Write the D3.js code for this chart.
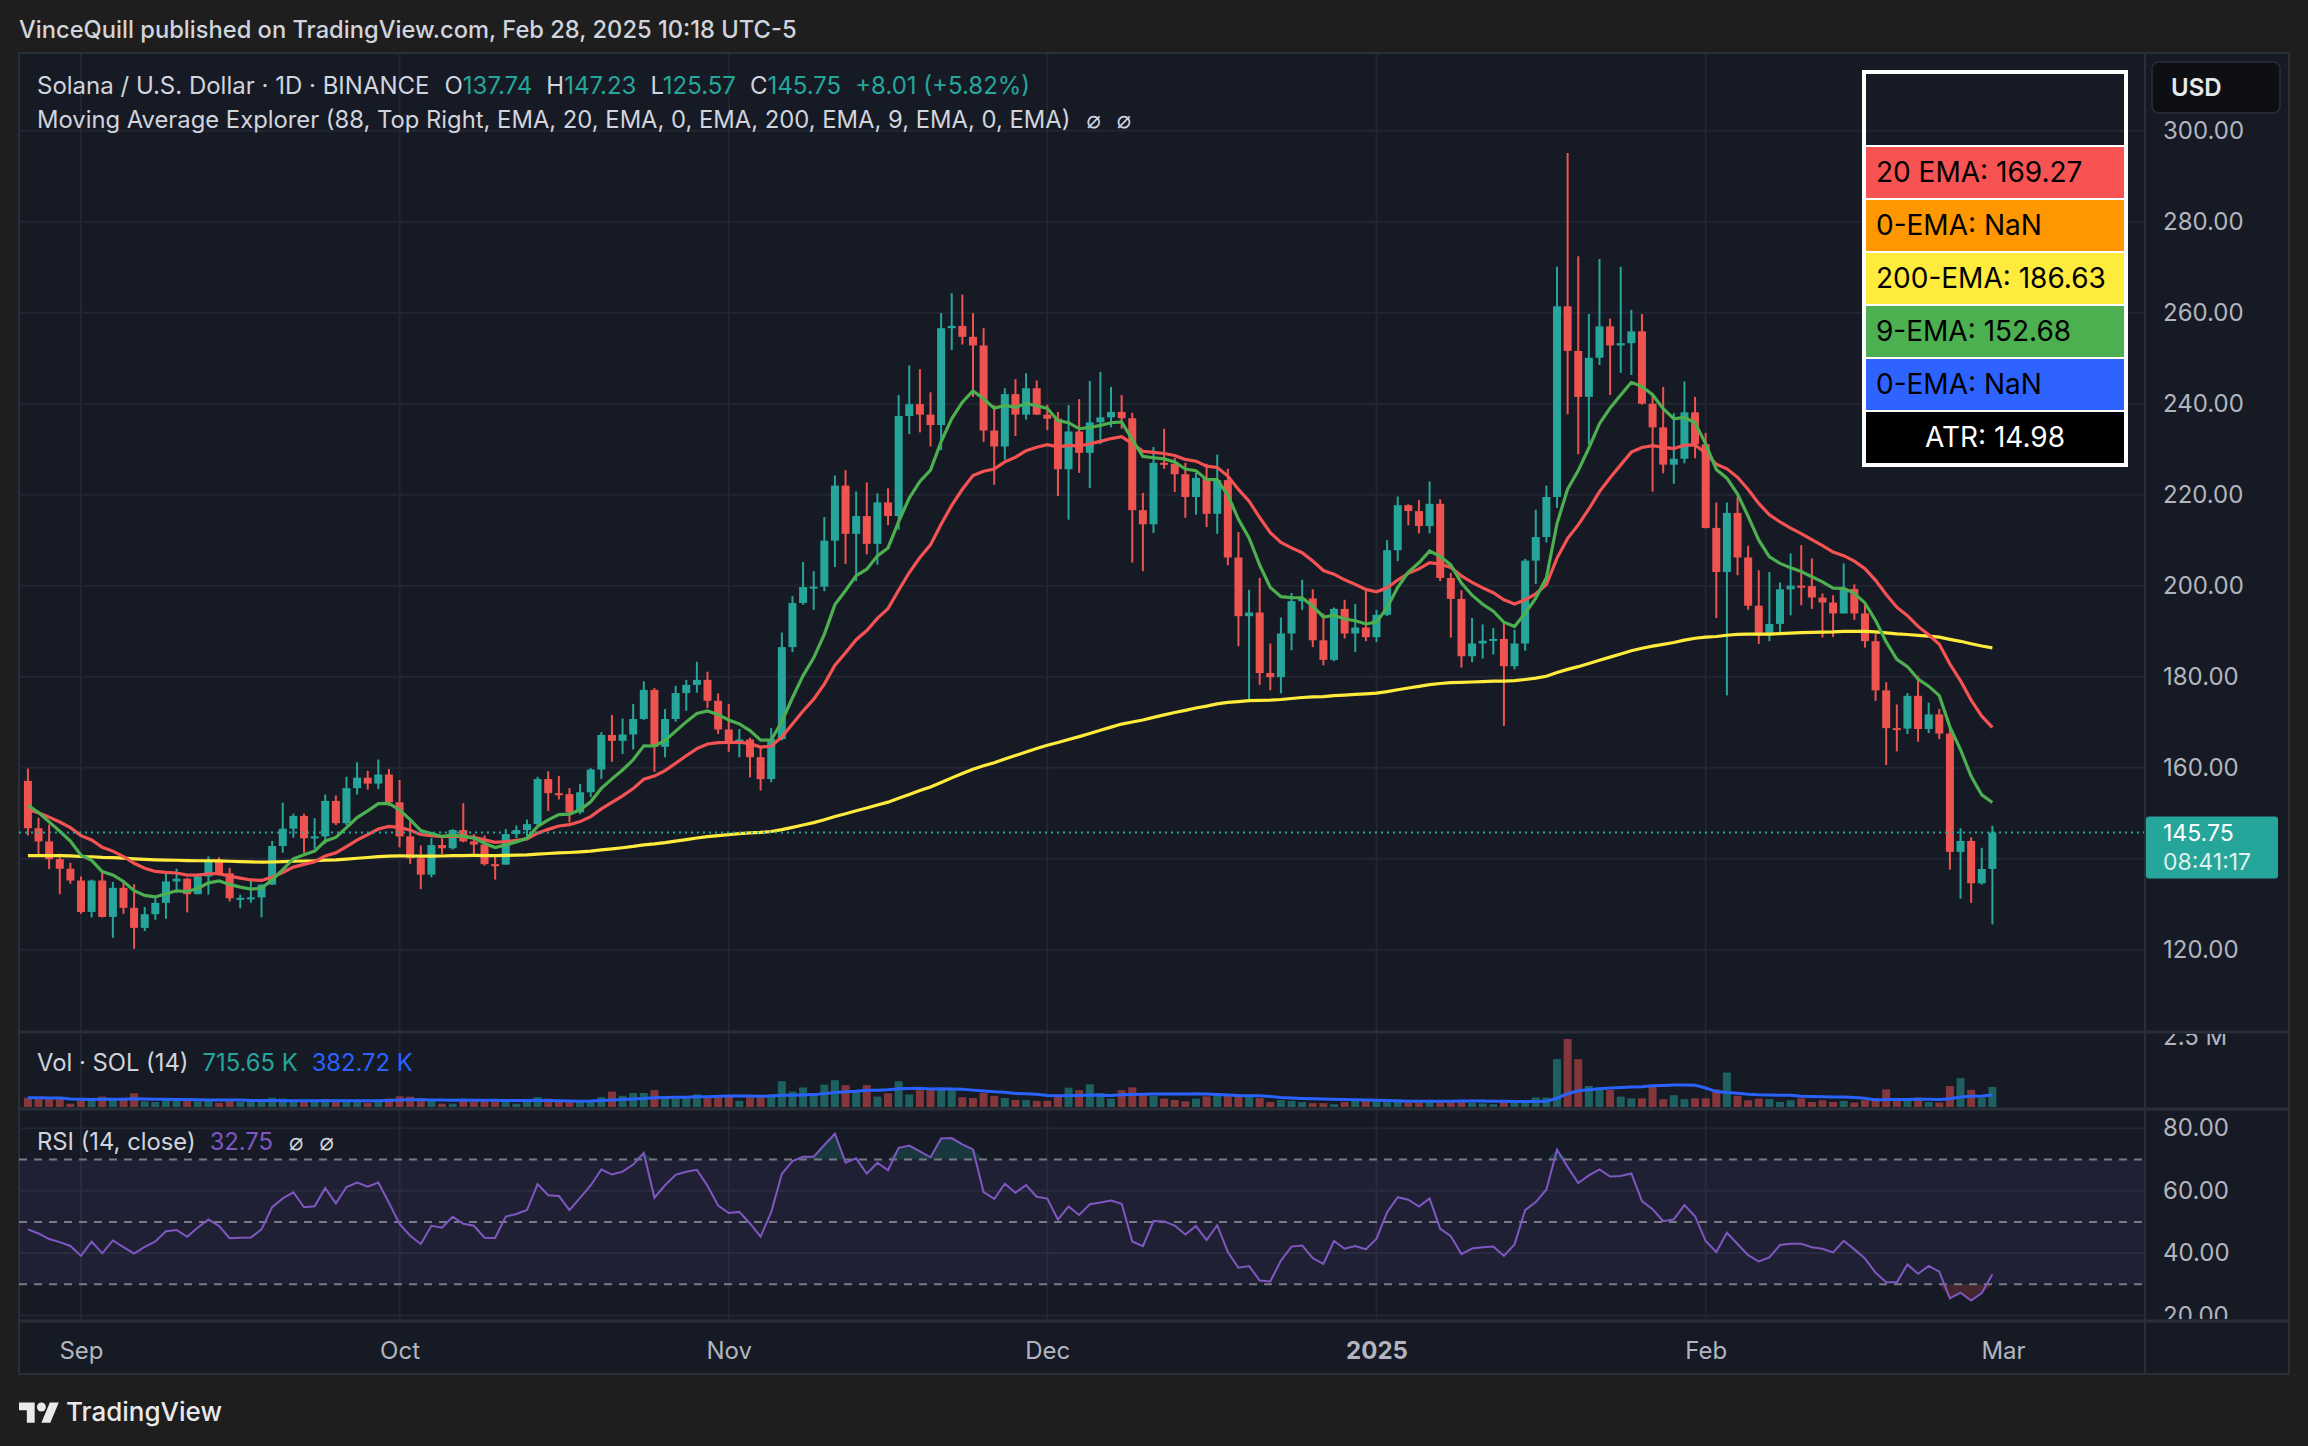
<!DOCTYPE html>
<html>
<head>
<meta charset="utf-8">
<script src="https://cdn.jsdelivr.net/npm/d3@7"></script>
<style>
html, body { margin: 0; padding: 0; background: #1e1e1e; }
svg { display: block; }
text { font-family: Inter, "Noto Sans", "DejaVu Sans", sans-serif; }
</style>
</head>
<body>
<script>

// daily SOL/USDT candles, Aug 27 2024 .. Feb 28 2025
const firstDay = Date.UTC(2024, 7, 27);

const opens = [
	157.1,146.7,143.8,139.9,137.8,135.2,128.3,135.2,127.2,133.6,
	129.2,124.8,127.8,130.3,135.0,135.6,132.2,136.1,139.6,136.8,
	131.3,131.4,131.5,134.3,142.8,146.6,149.4,144.5,144.9,152.7,
	147.8,155.5,157.8,156.5,158.5,152.4,144.9,140.1,136.5,143.0,
	142.3,146.3,143.8,143.1,138.8,138.7,145.4,146.3,147.6,157.5,
	154.4,154.2,150.2,154.6,159.6,167.2,165.9,167.3,170.7,177.1,
	164.6,170.7,176.4,178.2,179.3,174.7,168.4,165.8,166.2,162.3,
	157.5,166.3,186.5,196.2,199.7,199.8,209.9,222.0,211.4,215.3,
	209.2,218.3,215.3,237.3,239.9,237.6,235.3,256.6,257.1,254.7,
	252.8,234.1,230.6,242.1,237.6,243.4,237.6,236.7,225.6,233.9,
	229.2,235.9,237.0,238.2,236.8,216.6,213.5,227.0,226.8,224.5,
	219.5,223.7,215.8,223.2,206.2,193.3,194.1,180.8,179.9,189.5,
	196.6,197.2,188.0,183.7,194.9,189.5,190.8,188.7,193.6,207.8,
	217.7,216.4,213.1,218.0,201.7,197.1,184.5,187.3,187.9,188.3,
	182.3,187.3,205.5,210.7,219.5,261.4,251.6,241.5,250.1,257.0,
	252.8,253.3,255.9,240.0,234.8,226.6,227.9,238.1,231.1,212.7,
	203.0,216.0,206.2,195.6,189.1,191.6,199.2,200.0,199.9,197.4,
	196.3,193.9,199.3,193.9,187.8,177.0,168.7,168.6,175.8,168.5,
	171.7,167.5,141.5,143.9,134.6,137.74
];
const highs = [
	159.8,149.0,147.5,141.1,139.1,136.1,135.4,137.5,134.9,135.2,
	134.4,129.4,131.6,136.8,137.8,135.8,136.7,140.5,140.3,138.0,
	132.1,135.6,134.4,143.9,152.3,149.9,149.9,148.9,154.1,153.9,
	158.0,161.2,159.3,161.8,159.7,157.3,148.7,142.9,144.5,144.5,
	146.5,152.2,145.4,145.1,140.5,146.5,147.3,148.6,158.0,159.2,
	158.2,155.5,156.4,159.9,167.8,171.6,170.8,174.0,179.0,177.5,
	172.9,178.0,179.3,183.3,181.1,176.3,174.0,168.5,166.6,164.5,
	168.7,189.7,197.7,205.2,203.2,215.1,224.2,225.4,220.7,222.7,
	220.3,221.4,241.9,248.4,247.6,242.5,259.9,264.3,264.0,259.9,
	256.6,239.7,243.4,245.4,246.7,245.1,239.8,238.2,239.7,241.0,
	245.0,247.0,243.7,241.9,238.0,220.4,230.5,234.5,228.1,227.0,
	224.8,226.8,228.8,225.7,211.8,199.1,201.7,187.3,193.0,198.4,
	201.3,199.2,193.9,195.2,196.9,196.0,199.0,194.7,210.0,219.6,
	217.9,218.8,222.9,219.0,202.8,199.0,192.9,191.5,190.7,191.8,
	190.3,205.9,216.7,222.0,270.1,295.1,272.4,259.7,271.8,258.7,
	270.1,260.6,259.7,242.3,243.7,237.9,244.9,241.5,233.6,218.3,
	218.3,219.5,208.8,203.4,203.0,200.7,207.1,208.9,206.0,198.3,
	197.9,204.9,200.3,195.8,189.4,178.8,173.9,176.4,180.2,174.3,
	172.9,169.3,146.7,144.7,142.4,147.23
];
const lows = [
	145.1,140.4,137.7,132.2,134.5,127.9,127.1,127.1,122.6,127.9,
	120.2,124.1,126.6,126.8,132.5,128.2,132.2,132.1,136.3,130.6,
	129.1,130.3,127.1,134.2,141.3,144.6,141.3,142.2,143.3,147.4,
	147.4,154.1,155.2,155.3,151.6,142.5,138.8,133.3,135.9,141.0,
	142.0,143.6,141.0,138.5,135.4,138.7,144.5,144.3,147.3,150.5,
	153.0,148.0,149.8,153.5,157.5,161.3,163.0,164.0,170.5,159.1,
	162.3,170.1,172.5,176.5,173.1,167.4,163.5,162.3,157.9,155.0,
	156.8,166.0,185.4,195.8,194.7,198.8,204.1,204.8,201.0,206.9,
	204.6,213.3,212.3,233.3,233.7,230.6,229.8,251.8,253.0,241.5,
	231.6,222.2,227.7,232.9,236.5,237.5,234.2,219.7,214.5,224.8,
	221.5,231.1,234.8,234.5,205.1,203.2,211.6,225.7,220.6,214.9,
	215.6,212.9,211.4,204.5,186.7,174.8,178.2,177.0,176.3,185.8,
	194.7,186.5,182.5,183.4,188.4,185.4,187.8,187.6,193.3,205.4,
	213.3,211.5,211.5,201.0,188.6,182.0,183.2,184.0,184.9,169.2,
	181.6,185.7,200.4,209.5,217.1,237.7,228.9,231.0,248.5,241.9,
	246.8,246.3,239.8,220.7,224.7,222.4,226.9,228.0,212.6,192.9,
	175.9,202.3,194.7,187.2,187.8,189.6,193.5,195.7,194.9,188.6,
	188.7,193.9,192.5,186.4,174.7,160.6,163.6,167.4,165.7,167.6,
	166.3,137.6,131.2,130.3,134.3,125.57
];
const closes = [
	146.7,143.8,139.9,137.8,135.2,128.3,135.2,127.2,133.6,129.2,
	124.8,127.8,130.3,135.0,135.6,132.2,136.1,139.6,136.8,131.3,
	131.4,131.5,134.3,142.8,146.6,149.4,144.5,144.9,152.7,147.8,
	155.5,157.8,156.5,158.5,152.4,144.9,140.1,136.5,143.0,142.3,
	146.3,143.8,143.1,138.8,138.7,145.4,146.3,147.6,157.5,154.4,
	154.2,150.2,154.6,159.6,167.2,165.9,167.3,170.7,177.1,164.6,
	170.7,176.4,178.2,179.3,174.7,168.4,165.8,166.2,162.3,157.5,
	166.3,186.5,196.2,199.7,199.8,209.9,222.0,211.4,215.3,209.2,
	218.3,215.3,237.3,239.9,237.6,235.3,256.6,257.1,254.7,252.8,
	234.1,230.6,242.1,237.6,243.4,237.6,236.7,225.6,233.9,229.2,
	235.9,237.0,238.2,236.8,216.6,213.5,227.0,226.8,224.5,219.5,
	223.7,215.8,223.2,206.2,193.3,194.1,180.8,179.9,189.5,196.6,
	197.2,188.0,183.7,194.9,189.5,190.8,188.7,193.6,207.8,217.7,
	216.4,213.1,218.0,201.7,197.1,184.5,187.3,187.9,188.3,182.3,
	187.3,205.5,210.7,219.5,261.4,251.6,241.5,250.1,257.0,252.8,
	253.3,255.9,240.0,234.8,226.6,227.9,238.1,231.1,212.7,203.0,
	216.0,206.2,195.6,189.1,191.6,199.2,200.0,199.9,197.4,196.3,
	193.9,199.3,193.9,187.8,177.0,168.7,168.6,175.8,168.5,171.7,
	167.5,141.5,143.9,134.6,137.74,145.75
];
// volume in millions of SOL
const volumes = [
	0.33,0.33,0.30,0.33,0.12,0.24,0.22,0.37,0.28,0.25,
	0.49,0.20,0.18,0.25,0.22,0.25,0.20,0.22,0.15,0.20,
	0.18,0.20,0.22,0.33,0.30,0.18,0.20,0.22,0.28,0.22,
	0.26,0.22,0.15,0.18,0.30,0.38,0.37,0.32,0.26,0.12,
	0.12,0.26,0.20,0.22,0.22,0.20,0.12,0.18,0.35,0.30,
	0.22,0.20,0.18,0.20,0.35,0.55,0.40,0.50,0.50,0.60,
	0.28,0.30,0.35,0.45,0.32,0.35,0.38,0.22,0.35,0.40,
	0.45,0.92,0.55,0.70,0.45,0.80,0.96,0.78,0.60,0.78,
	0.37,0.49,0.92,0.45,0.60,0.60,0.62,0.60,0.35,0.32,
	0.50,0.40,0.32,0.25,0.25,0.22,0.22,0.42,0.69,0.60,
	0.81,0.50,0.30,0.60,0.70,0.50,0.40,0.30,0.25,0.20,
	0.30,0.38,0.42,0.40,0.45,0.45,0.32,0.18,0.25,0.22,
	0.18,0.14,0.14,0.10,0.18,0.22,0.28,0.28,0.28,0.28,
	0.16,0.16,0.22,0.22,0.22,0.22,0.15,0.13,0.10,0.22,
	0.15,0.20,0.34,0.34,1.71,2.43,1.71,0.75,0.70,0.61,
	0.37,0.31,0.31,0.73,0.28,0.42,0.28,0.31,0.31,0.63,
	1.23,0.40,0.24,0.30,0.28,0.18,0.24,0.31,0.18,0.24,
	0.18,0.22,0.16,0.24,0.31,0.63,0.31,0.28,0.34,0.18,
	0.16,0.75,1.03,0.61,0.34,0.7157
];

// indicator values just before the first visible bar
const ema9Prior = 153.0;
const ema20Prior = 151.2;
const ema200Prior = 140.6;
const rsiPriorGain = 4.0;
const rsiPriorLoss = 3.6;

const priceTicks = [120, 140, 160, 180, 200, 220, 240, 260, 280, 300];
// 140.00 sits under the last-price tag, so it has no label
const priceTickLabels = [120, 160, 180, 200, 220, 240, 260, 280, 300];
const rsiTicks = [20, 40, 60, 80];
const rsiLevels = [70, 50, 30];
const monthTicks = [
	Date.UTC(2024, 8, 1), Date.UTC(2024, 9, 1), Date.UTC(2024, 10, 1), Date.UTC(2024, 11, 1),
	Date.UTC(2025, 0, 1), Date.UTC(2025, 1, 1), Date.UTC(2025, 2, 1)
];
const monthLabels = ['Sep', 'Oct', 'Nov', 'Dec', '2025', 'Feb', 'Mar'];

const legendLabels = ['20 EMA: 169.27', '0-EMA: NaN', '200-EMA: 186.63', '9-EMA: 152.68', '0-EMA: NaN'];
const atrLabel = 'ATR: 14.98';
const volLabelValues = ['715.65 K', '382.72 K'];
const rsiLabelValue = '32.75';
const clockLabel = '08:41:17';


const W = 2308, H = 1446;
const left = 19, right = 2289, axisX = 2145;
const priceTop = 54, priceBottom = 1031;
const volTop = 1034, volBottom = 1108;
const rsiTop = 1110, rsiBottom = 1320;
const panelBottom = 1374;

const up = '#26a69a', down = '#ef5350';
const gridColor = '#222632';
const sepColor = '#2a2e39';
const axisText = '#b2b5be';
const legendColors = ['#f75353', '#ff9800', '#ffeb3b', '#4caf50', '#2e63ff'];

const days = closes.map((c, i) => new Date(firstDay + i * 864e5));
const idx = d3.range(closes.length);

// indicators
function ema(prior, n) {
	const a = 2 / (n + 1);
	let e = prior;
	return closes.map(c => (e = a * c + (1 - a) * e));
}
const ema9 = ema(ema9Prior, 9);
const ema20 = ema(ema20Prior, 20);
const ema200 = ema(ema200Prior, 200);

const rsi = [];
{
	let g = rsiPriorGain, l = rsiPriorLoss, pc = opens[0];
	closes.forEach(c => {
		const ch = c - pc;
		g = (g * 13 + Math.max(ch, 0)) / 14;
		l = (l * 13 + Math.max(-ch, 0)) / 14;
		rsi.push(100 - 100 / (1 + g / l));
		pc = c;
	});
}
const volMa = volumes.map((v, i) => d3.mean(volumes.slice(Math.max(0, i - 13), i + 1)));

// scales
const x = d3.scaleUtc()
	.domain([new Date(monthTicks[0]), new Date(monthTicks[6])])
	.range([81, 2003]);
const y = d3.scaleLinear().domain([120, 300]).range([949.7, 130.7]);
const yV = d3.scaleLinear().domain([0, 2.5]).range([volBottom - 1, 1037]);
const yR = d3.scaleLinear().domain([20, 80]).range([1315.5, 1128.3]);

const svg = d3.select('body').append('svg')
	.attr('width', W)
	.attr('height', H);

const defs = svg.append('defs');
function clip(id, x0, y0, x1, y1) {
	defs.append('clipPath').attr('id', id)
		.append('rect').attr('x', x0).attr('y', y0).attr('width', x1 - x0).attr('height', y1 - y0);
	return 'url(#' + id + ')';
}

svg.append('rect').attr('width', W).attr('height', H).attr('fill', '#1e1e1e');

svg.append('text')
	.attr('x', 19).attr('y', 38)
	.attr('fill', '#d1d4dc')
	.style('font-size', '23.7px').style('font-weight', 500)
	.text('VinceQuill published on TradingView.com, Feb 28, 2025 10:18 UTC-5');

svg.append('rect')
	.attr('x', left).attr('y', priceTop - 1)
	.attr('width', right - left).attr('height', panelBottom - priceTop + 1)
	.attr('fill', '#161a25')
	.attr('stroke', sepColor).attr('stroke-width', 2);

// grid
const grid = svg.append('g');
monthTicks.slice(0, 6).forEach(t => {
	[[priceTop, priceBottom], [volTop, volBottom], [rsiTop, rsiBottom]].forEach(([a, b]) => {
		grid.append('line')
			.attr('x1', x(new Date(t))).attr('x2', x(new Date(t)))
			.attr('y1', a).attr('y2', b)
			.attr('stroke', gridColor).attr('stroke-width', 2);
	});
});
grid.selectAll('line.hp').data(priceTicks).enter().append('line')
	.attr('x1', left).attr('x2', axisX)
	.attr('y1', d => y(d)).attr('y2', d => y(d))
	.attr('stroke', gridColor).attr('stroke-width', 2);
grid.selectAll('line.hr').data(rsiTicks).enter().append('line')
	.attr('x1', left).attr('x2', axisX)
	.attr('y1', d => yR(d)).attr('y2', d => yR(d))
	.attr('stroke', gridColor).attr('stroke-width', 2);

// price pane
const priceG = svg.append('g').attr('clip-path', clip('cp', left, priceTop, axisX, priceBottom));

const col = i => closes[i] >= opens[i] ? up : down;

priceG.selectAll('line.wick').data(idx).enter().append('line')
	.attr('x1', i => x(days[i])).attr('x2', i => x(days[i]))
	.attr('y1', i => y(highs[i])).attr('y2', i => y(lows[i]))
	.attr('stroke', col).attr('stroke-width', 2);

priceG.selectAll('rect.body').data(idx).enter().append('rect')
	.attr('x', i => x(days[i]) - 4)
	.attr('width', 8)
	.attr('y', i => y(Math.max(opens[i], closes[i])))
	.attr('height', i => Math.max(2, Math.abs(y(opens[i]) - y(closes[i]))))
	.attr('fill', col);

const priceLine = arr => d3.line().x((d, i) => x(days[i])).y(d => y(d))(arr);
priceG.append('path').attr('d', priceLine(ema200))
	.attr('fill', 'none').attr('stroke', '#ffeb3b').attr('stroke-width', 3.2);
priceG.append('path').attr('d', priceLine(ema20))
	.attr('fill', 'none').attr('stroke', '#f55353').attr('stroke-width', 3.2);
priceG.append('path').attr('d', priceLine(ema9))
	.attr('fill', 'none').attr('stroke', '#4caf50').attr('stroke-width', 3.2);

const last = closes.length - 1;
priceG.append('line')
	.attr('x1', left).attr('x2', axisX)
	.attr('y1', y(closes[last])).attr('y2', y(closes[last]))
	.attr('stroke', up).attr('stroke-width', 2).attr('stroke-dasharray', '2,4');

// legend box (top right)
const lg = svg.append('g');
lg.append('rect').attr('x', 1866).attr('y', 145).attr('width', 258).attr('height', 320).attr('fill', '#fff');
legendLabels.forEach((t, i) => {
	const yy = 147 + i * 53;
	lg.append('rect').attr('x', 1866).attr('y', yy).attr('width', 258).attr('height', 51).attr('fill', legendColors[i]);
	lg.append('text').attr('x', 1876).attr('y', yy + 35)
		.attr('fill', '#000').style('font-size', '28px').text(t);
});
lg.append('rect').attr('x', 1866).attr('y', 412).attr('width', 258).attr('height', 51).attr('fill', '#000');
lg.append('text').attr('x', 1995).attr('y', 447).attr('text-anchor', 'middle')
	.attr('fill', '#fff').style('font-size', '28px').text(atrLabel);
lg.append('rect').attr('x', 1864).attr('y', 72).attr('width', 262).attr('height', 393)
	.attr('fill', 'none').attr('stroke', '#fff').attr('stroke-width', 4);

// legend text, top left
const t1 = svg.append('text').attr('x', 37).attr('y', 94).style('font-size', '24px').attr('fill', '#d1d4dc');
t1.append('tspan').text('Solana / U.S. Dollar · 1D · BINANCE');
const ohlc = [['O', opens[last]], ['H', highs[last]], ['L', lows[last]], ['C', closes[last]]];
ohlc.forEach(([k, v], i) => {
	t1.append('tspan').attr('dx', i === 0 ? 15 : 14).attr('fill', '#d1d4dc').text(k);
	t1.append('tspan').attr('fill', up).text(v.toFixed(2));
});
const chg = closes[last] - closes[last - 1];
t1.append('tspan').attr('dx', 14).attr('fill', up)
	.text('+' + chg.toFixed(2) + ' (+' + (chg / closes[last - 1] * 100).toFixed(2) + '%)');

const t2 = svg.append('text').attr('x', 37).attr('y', 128).style('font-size', '23.8px').attr('fill', '#d1d4dc');
t2.append('tspan').text('Moving Average Explorer (88, Top Right, EMA, 20, EMA, 0, EMA, 200, EMA, 9, EMA, 0, EMA)');
t2.append('tspan').attr('dx', 16).text('\u2300');
t2.append('tspan').attr('dx', 16).text('\u2300');

// volume pane
const volG = svg.append('g').attr('clip-path', clip('cv', left, volTop, axisX, volBottom));
volG.selectAll('rect').data(idx).enter().append('rect')
	.attr('x', i => x(days[i]) - 4)
	.attr('width', 8)
	.attr('y', i => yV(volumes[i]))
	.attr('height', i => yV(0) - yV(volumes[i]))
	.attr('fill', i => closes[i] >= opens[i] ? 'rgba(38,166,154,0.5)' : 'rgba(239,83,80,0.5)');
volG.append('path')
	.attr('d', d3.line().x((d, i) => x(days[i])).y(d => yV(d))(volMa))
	.attr('fill', 'none').attr('stroke', '#2962ff').attr('stroke-width', 3);

const vt = svg.append('text').attr('x', 37).attr('y', 1071).style('font-size', '23.8px').attr('fill', '#d1d4dc');
vt.append('tspan').text('Vol · SOL (14)');
vt.append('tspan').attr('dx', 14).attr('fill', up).text(volLabelValues[0]);
vt.append('tspan').attr('dx', 14).attr('fill', '#2962ff').text(volLabelValues[1]);

// rsi pane
const rsiG = svg.append('g').attr('clip-path', clip('cr', left, rsiTop, axisX, rsiBottom));
rsiG.append('rect')
	.attr('x', left).attr('width', axisX - left)
	.attr('y', yR(70)).attr('height', yR(30) - yR(70))
	.attr('fill', 'rgba(126,87,194,0.1)');
rsiG.append('path')
	.attr('d', d3.area().x((d, i) => x(days[i])).y0(yR(70)).y1(d => yR(Math.max(d, 70)))(rsi))
	.attr('fill', 'rgba(38,166,154,0.22)');
rsiG.append('path')
	.attr('d', d3.area().x((d, i) => x(days[i])).y0(yR(30)).y1(d => yR(Math.min(d, 30)))(rsi))
	.attr('fill', 'rgba(239,83,80,0.22)');
rsiG.selectAll('line.lv').data(rsiLevels).enter().append('line')
	.attr('x1', left).attr('x2', axisX)
	.attr('y1', d => yR(d)).attr('y2', d => yR(d))
	.attr('stroke', '#787b86').attr('stroke-width', 2).attr('stroke-dasharray', '8,7');
rsiG.append('path')
	.attr('d', d3.line().x((d, i) => x(days[i])).y(d => yR(d))(rsi))
	.attr('fill', 'none').attr('stroke', '#7e57c2').attr('stroke-width', 2);

const rt = svg.append('text').attr('x', 37).attr('y', 1150).style('font-size', '23.8px').attr('fill', '#d1d4dc');
rt.append('tspan').text('RSI (14, close)');
rt.append('tspan').attr('dx', 14).attr('fill', '#7e57c2').text(rsiLabelValue);
rt.append('tspan').attr('dx', 16).text('\u2300');
rt.append('tspan').attr('dx', 16).text('\u2300');

// separators
[priceBottom + 1, volBottom + 1, rsiBottom + 1].forEach(yy => {
	svg.append('line').attr('x1', left).attr('x2', right).attr('y1', yy).attr('y2', yy)
		.attr('stroke', sepColor).attr('stroke-width', 3);
});
svg.append('line').attr('x1', axisX).attr('x2', axisX).attr('y1', priceTop).attr('y2', panelBottom)
	.attr('stroke', sepColor).attr('stroke-width', 2);

// right axes (clip on an outer group, axis in an inner translated group)
const styleAxis = g => {
	g.select('.domain').remove();
	g.selectAll('text').attr('fill', axisText).style('font-size', '24px')
		.style('font-family', 'Inter, "Noto Sans", sans-serif');
};
svg.append('g').attr('clip-path', clip('ca', axisX, priceTop, right, priceBottom))
	.append('g').attr('transform', 'translate(' + axisX + ',0)')
	.call(d3.axisRight(y).tickValues(priceTickLabels).tickSize(0).tickPadding(18).tickFormat(d3.format('.2f')))
	.call(styleAxis);
svg.append('g').attr('clip-path', clip('cv2', axisX, volTop, right, volBottom))
	.append('g').attr('transform', 'translate(' + axisX + ',0)')
	.call(d3.axisRight(yV).tickValues([2.5]).tickSize(0).tickPadding(18).tickFormat(d => d + ' M'))
	.call(styleAxis);
svg.append('g').attr('clip-path', clip('cr2', axisX, rsiTop, right, rsiBottom - 1))
	.append('g').attr('transform', 'translate(' + axisX + ',0)')
	.call(d3.axisRight(yR).tickValues(rsiTicks).tickSize(0).tickPadding(18).tickFormat(d3.format('.2f')))
	.call(styleAxis);

// USD button
svg.append('rect').attr('x', 2152).attr('y', 62).attr('width', 128).attr('height', 51).attr('rx', 7)
	.attr('fill', '#0e0f12').attr('stroke', sepColor).attr('stroke-width', 1.5);
svg.append('text').attr('x', 2171).attr('y', 96).attr('fill', '#e8e9ec')
	.style('font-size', '24px').style('font-weight', 600).text('USD');

// last price tag
const py = y(closes[last]);
svg.append('rect').attr('x', axisX + 1).attr('y', py - 16).attr('width', 132).attr('height', 62).attr('rx', 3)
	.attr('fill', up);
svg.append('text').attr('x', 2163).attr('y', py + 8.5).attr('fill', '#fff')
	.style('font-size', '23px').text(closes[last].toFixed(2));
svg.append('text').attr('x', 2163).attr('y', py + 37).attr('fill', 'rgba(255,255,255,0.85)')
	.style('font-size', '23px').text(clockLabel);

// time axis
const xa = svg.append('g').attr('transform', 'translate(0,1342)')
	.call(d3.axisBottom(x).tickValues(monthTicks.map(t => new Date(t))).tickSize(0).tickPadding(0)
		.tickFormat((d, i) => monthLabels[i]));
xa.select('.domain').remove();
xa.selectAll('text').attr('fill', axisText).style('font-size', '24px')
	.style('font-family', 'Inter, "Noto Sans", sans-serif')
	.style('font-weight', (d, i) => monthLabels[i] === '2025' ? 700 : 400);

// footer logo
const logo = svg.append('g').attr('transform', 'translate(19,1398) scale(1.12)').attr('fill', '#e8e9ec');
logo.append('path').attr('d', 'M14 22H7V11H0V4h14v18z');
logo.append('circle').attr('cx', 20).attr('cy', 8).attr('r', 4);
logo.append('path').attr('d', 'M28 22h-8l7.5-18h8L28 22z');
svg.append('text').attr('x', 66).attr('y', 1421).attr('fill', '#e8e9ec')
	.style('font-size', '26px').style('font-weight', 500).text('TradingView');

</script>
</body>
</html>
